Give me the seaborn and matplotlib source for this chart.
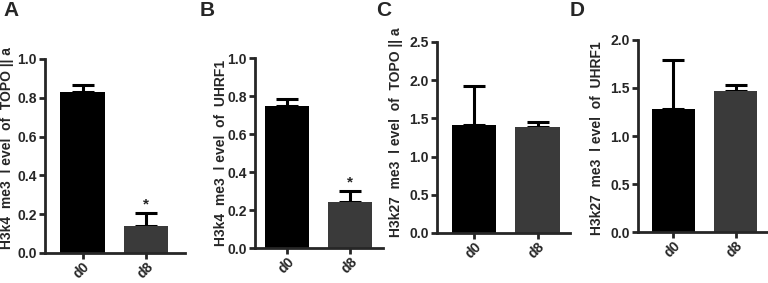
import numpy as np
import pandas as pd
import matplotlib
matplotlib.use("Agg")
import matplotlib.pyplot as plt
import seaborn as sns
from matplotlib import font_manager

sns.set_theme(style="ticks")
plt.rcParams['font.family'] = ['Liberation Sans', 'DejaVu Sans']

# data
groups = ["d0", "d8"]
a_mean = [0.83, 0.14]
a_err = [0.035, 0.065]
b_mean = [0.75, 0.24]
b_err = [0.035, 0.06]
c_mean = [1.42, 1.39]
c_err = [0.50, 0.06]
d_mean = [1.28, 1.47]
d_err = [0.51, 0.065]

ylabels = ["H3k4  me3  l evel  of  TOPO || a", "H3k4  me3  l evel  of  UHRF1",
           "H3k27  me3  l evel  of  TOPO || a", "H3k27  me3  l evel  of  UHRF1"]
letters = ["A", "B", "C", "D"]
ymaxes = [1.0, 1.0, 2.5, 2.0]
ysteps = [0.2, 0.2, 0.5, 0.5]
stars = [True, True, False, False]

names = [f.name for f in font_manager.fontManager.ttflist]
narrow = "Liberation Sans Narrow" if "Liberation Sans Narrow" in names else "Liberation Sans"

W, H = 768, 283
fig = plt.figure(figsize=(W / 100, H / 100), dpi=100)

# pixel boxes: left, right, bottom, top ; xlim
boxes = [(45, 185, 253, 59, (-0.59, 1.61)),
         (255, 383, 248, 58, (-0.51, 1.52)),
         (437, 570, 233, 42, (-0.58, 1.51)),
         (638, 768, 232, 40, (-0.57, 1.52))]
letter_x = [3, 200, 376, 570]
label_x = [-31, -27, -34, -34]
label_y = [148, 153, 132, 138]

means = [a_mean, b_mean, c_mean, d_mean]
errs = [a_err, b_err, c_err, d_err]

for i in range(4):
    l, r, b, t, xl = boxes[i]
    ax = fig.add_axes([l / W, (H - b) / H, (r - l) / W, (b - t) / H])
    df = pd.DataFrame({"group": groups, "value": means[i]})
    sns.barplot(data=df, x="group", y="value", hue="group",
                palette=["#000000", "#3a3a3a"], width=0.7, ax=ax,
                legend=False, saturation=1, edgecolor="none")
    ax.errorbar([0, 1], means[i], yerr=[[0, 0], errs[i]], fmt="none",
                ecolor="black", elinewidth=2.2, capsize=8, capthick=2.2, zorder=0)
    if stars[i]:
        ax.text(1, means[i][1] + errs[i][1] + 0.01 * ymaxes[i], "*",
                ha="center", va="bottom", fontsize=11, fontweight="bold")
    ax.set_xlim(*xl)
    ax.set_ylim(0, ymaxes[i])
    ax.set_yticks(np.arange(0, ymaxes[i] + 1e-9, ysteps[i]))
    ax.set_yticklabels([f"{v:.1f}" for v in np.arange(0, ymaxes[i] + 1e-9, ysteps[i])],
                       fontsize=10, fontweight="bold")
    ax.set_xticks([0, 1])
    ax.set_xticklabels(groups, rotation=45, fontsize=10, fontweight="bold",
                       ha="right", rotation_mode="anchor")
    ax.set_xlabel("")
    ax.set_ylabel(ylabels[i], fontsize=10, fontweight="bold", family=[narrow, "DejaVu Sans"])
    ax.yaxis.set_label_coords(label_x[i] / (r - l), (b - label_y[i]) / (b - t))
    for s in ["top", "right"]:
        ax.spines[s].set_visible(False)
    for s in ["left", "bottom"]:
        ax.spines[s].set_linewidth(2)
    ax.tick_params(width=2, length=4, pad=2)
    ax.tick_params(axis="x", length=4, pad=1)
    fig.text(letter_x[i] / W, 1 - 11 / H, letters[i], fontsize=15,
             fontweight="bold", va="center")

fig.savefig("out.png", dpi=100)
